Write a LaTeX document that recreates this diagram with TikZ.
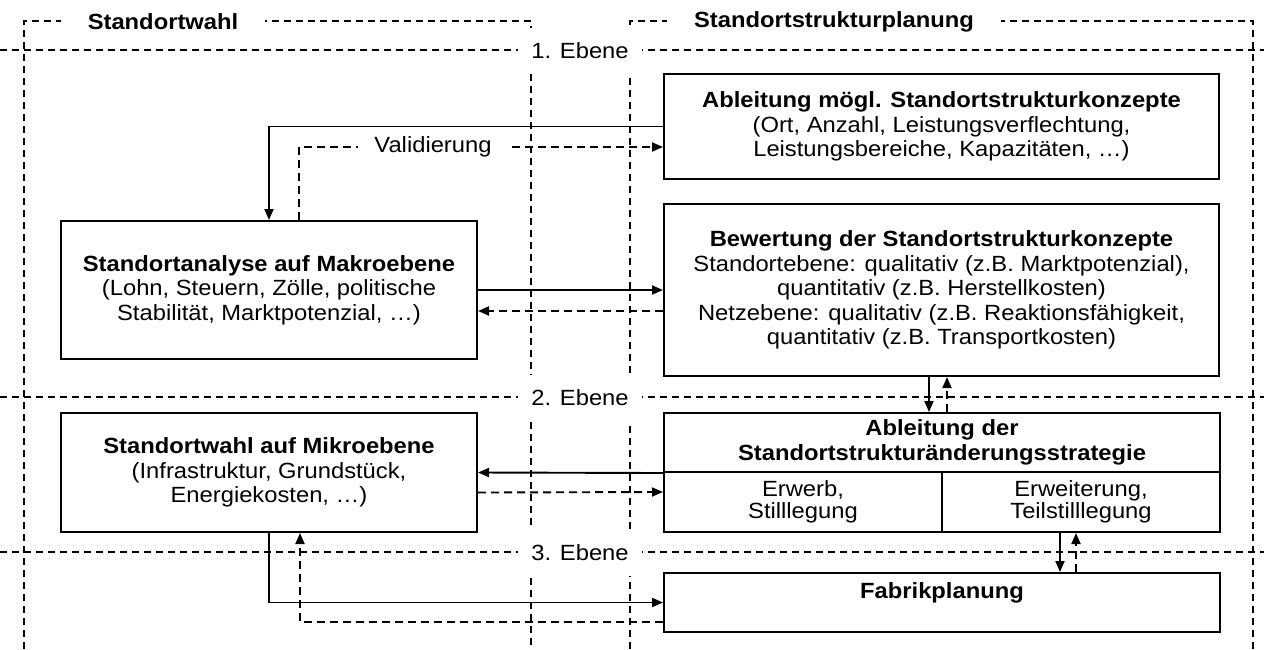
\documentclass[tikz,border=0pt]{standalone}
\usepackage{fontspec}
\setmainfont{Liberation Sans}[FakeStretch=1.08]
\usetikzlibrary{arrows.meta,calc}
\begin{document}
\begin{tikzpicture}[x=1pt,y=-1pt,
  txt/.style={font=\fontsize{22}{24.5}\selectfont},
  box/.style={draw,line width=2pt,fill=white,align=center,inner sep=0pt,txt},
  grp/.style={line width=1.7pt,dash pattern=on 7pt off 5pt},
  tag/.style={fill=white,inner sep=0pt,minimum width=124pt,minimum height=46pt,txt},
  ttl/.style={fill=white,inner xsep=27pt,inner ysep=4pt,font=\fontsize{22}{24.5}\selectfont\bfseries},
  vtag/.style={fill=white,inner xsep=16pt,inner ysep=2pt,txt},
  arr/.style={line width=1.9pt,-{Triangle[length=11pt,width=9pt]}},
  darr/.style={arr,dash pattern=on 8pt off 5pt},
]
\useasboundingbox (0,0) rectangle (1264,649);

% groups: site selection and site structure planning
\draw[grp] (24,649) -- (24,21) -- (531,21) -- (531,649);
\draw[grp] (630,649) -- (630,21) -- (1253,21) -- (1253,649);
\node[ttl] (gl) at (163,22) {Standortwahl};
\node[ttl] (gr) at (834,22) {Standortstrukturplanung};

% planning levels
\draw[grp] (0,50) -- (1264,50);
\draw[grp] (0,397) -- (1264,397);
\draw[grp] (0,552) -- (1264,552);
\node[tag] (e1) at (580,51) {1. Ebene};
\node[tag] (e2) at (580,398) {2. Ebene};
\node[tag] (e3) at (580,553) {3. Ebene};

% boxes
\node[box,minimum width=555pt,minimum height=105pt] (konz) at (941.5,126.5)
  {\textbf{Ableitung mögl. Standortstrukturkonzepte}\\(Ort, Anzahl, Leistungsverflechtung,\\Leistungsbereiche, Kapazitäten, …)};
\node[box,minimum width=416pt,minimum height=138pt] (makro) at (269,290)
  {\textbf{Standortanalyse auf Makroebene}\\(Lohn, Steuern, Zölle, politische\\Stabilität, Marktpotenzial, …)};
\node[box,minimum width=555pt,minimum height=172pt] (bew) at (941.5,290)
  {\textbf{Bewertung der Standortstrukturkonzepte}\\Standortebene: qualitativ (z.B. Marktpotenzial),\\quantitativ (z.B. Herstellkosten)\\Netzebene: qualitativ (z.B. Reaktionsfähigkeit,\\quantitativ (z.B. Transportkosten)};
\node[box,minimum width=416pt,minimum height=119pt] (mikro) at (269,472.5)
  {\textbf{Standortwahl auf Mikroebene}\\(Infrastruktur, Grundstück,\\Energiekosten, …)};
\node[box,minimum width=556pt,minimum height=59pt] (stratA) at (942,442.5)
  {\textbf{Ableitung der}\\\textbf{Standortstrukturänderungsstrategie}};
\node[box,minimum width=278pt,minimum height=60pt,font=\fontsize{22}{21.5}\selectfont] (stratL) at (803,502)
  {Erwerb,\\Stilllegung};
\node[box,minimum width=278pt,minimum height=60pt,font=\fontsize{22}{21.5}\selectfont] (stratR) at (1081,502)
  {Erweiterung,\\Teilstilllegung};
\node[box,minimum width=556pt,minimum height=59pt] (fab) at (942,602.5)
  {\textbf{Fabrikplanung}\\\mbox{}};

% flows between the levels
\draw[arr] (konz.west) -| (makro.north);
\draw[darr] ($(makro.north)+(30,0)$) |- ($(konz.west)+(0,20.5)$);
\node[vtag] (val) at (433,147) {Validierung};
\draw[arr] (makro.east) -- (bew.west);
\draw[darr] ($(bew.west)+(0,21)$) -- ($(makro.east)+(0,21)$);
\draw[arr] ($(bew.south)+(-12.5,0)$) -- ($(stratA.north)+(-13,0)$);
\draw[darr] ($(stratA.north)+(5,0)$) -- ($(bew.south)+(5.5,0)$);
\draw[arr] (stratA.south west) -- (mikro.east);
\draw[darr] ($(mikro.east)+(0,20)$) -- ($(stratL.west)+(0,-10)$);
\draw[arr] ($(stratR.south)+(-21,0)$) -- ($(fab.north)+(118,0)$);
\draw[darr] ($(fab.north)+(134,0)$) -- ($(stratR.south)+(-5,0)$);
\draw[arr] (mikro.south) |- (fab.west);
\draw[darr] ($(fab.west)+(0,19.5)$) -| ($(mikro.south)+(31,0)$);
\end{tikzpicture}
\end{document}
